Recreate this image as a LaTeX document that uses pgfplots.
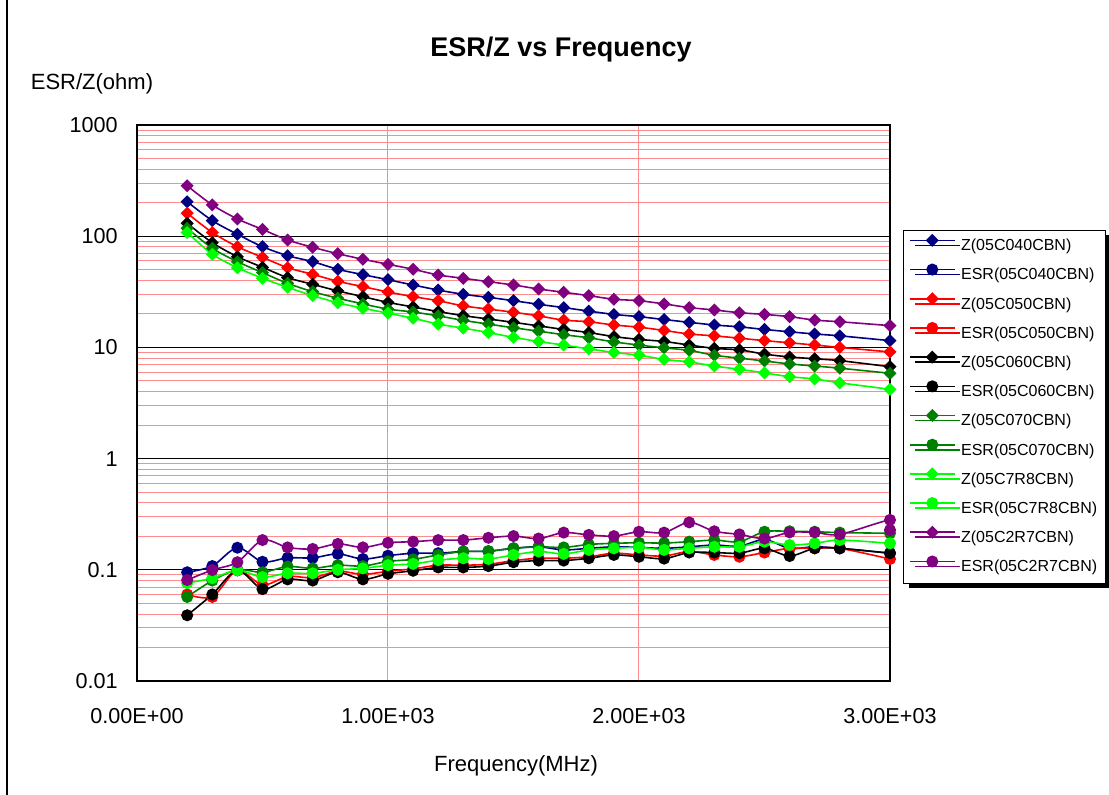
\documentclass[border=0pt]{standalone}
\usepackage{fontspec}
\setmainfont{Liberation Sans}
\usepackage{pgfplots}
\usepackage{pgfplotstable}
\pgfplotsset{compat=1.18}
\usetikzlibrary{shadows}

\definecolor{cnavy}{RGB}{0,0,128}
\definecolor{cred}{RGB}{255,0,0}
\definecolor{cdkgreen}{RGB}{0,128,0}
\definecolor{clime}{RGB}{0,255,0}
\definecolor{cpurple}{RGB}{128,0,128}
\definecolor{gridpink}{RGB}{255,140,140}

% frequency (MHz), Z and ESR (ohm) per part
\pgfplotstableread{
f    z040  e040  z050  e050  z060  e060  z070  e070  z78   e78   z27
200  204   0.095 161   0.060 130.6 0.039 117.8 0.057 108   0.076 284
300  138   0.108 108   0.057 87.4  0.060 77.9  0.080 68.8  0.084 191
400  104   0.158 80.4  0.099 65.4  0.099 59    0.100 52.1  0.099 143
500  80.4  0.118 64.6  0.073 52.5  0.067 47    0.095 41.8  0.086 115
600  66.8  0.128 52.1  0.087 42.4  0.082 37.7  0.107 34.7  0.093 92.4
700  59    0.128 45.4  0.085 36.9  0.080 31.7  0.103 29.2  0.093 79.5
800  50.4  0.139 39.3  0.097 32.2  0.095 27.7  0.110 25.2  0.100 69.6
900  45.1  0.125 35.2  0.091 28.6  0.082 24.6  0.108 22.5  0.103 62
1000 40.6  0.134 31.5  0.097 25.4  0.092 22.1  0.119 20.3  0.110 55.9
1100 36.4  0.141 28.6  0.102 23.1  0.098 20.8  0.124 18.3  0.113 50.4
1200 32.8  0.141 26.3  0.110 21    0.105 19.2  0.136 16.2  0.122 44.8
1300 30    0.146 23.6  0.110 19.3  0.105 17.5  0.146 14.9  0.127 41.8
1400 28.2  0.147 22.1  0.112 18    0.108 16.2  0.147 13.6  0.125 39
1500 26.3  0.156 20.7  0.121 16.8  0.117 15.0  0.156 12.3  0.136 36.4
1600 24.4  0.161 19.2  0.127 15.6  0.121 14.0  0.161 11.3  0.146 33.5
1700 22.8  0.151 17.6  0.127 14.5  0.121 13.0  0.159 10.5  0.139 31.3
1800 21.2  0.156 17    0.131 13.6  0.127 12.2  0.169 9.7   0.151 29.2
1900 19.8  0.161 15.9  0.141 12.5  0.136 11.2  0.173 9.0   0.156 27.1
2000 18.9  0.159 15.2  0.136 11.8  0.131 10.5  0.175 8.5   0.159 26.3
2100 17.8  0.156 14.2  0.133 11.3  0.126 9.9   0.174 7.8   0.151 24.6
2200 16.8  0.161 13.2  0.146 10.5  0.143 9.4   0.179 7.4   0.156 22.8
2300 15.9  0.167 12.7  0.136 9.8   0.143 8.5   0.185 6.8   0.161 21.7
2400 15.3  0.163 12.1  0.131 9.5   0.141 8.0   0.179 6.35  0.161 20.5
2500 14.5  0.187 11.5  0.143 8.7   0.156 7.55  0.220 5.9   0.179 19.8
2600 13.8  0.156 11    0.156 8.2   0.133 7.1   0.222 5.45  0.167 18.9
2700 13.2  0.161 10.5  0.156 7.9   0.156 6.8   0.220 5.2   0.173 17.6
2800 12.7  0.156 10    0.156 7.6   0.156 6.5   0.216 4.8   0.185 17
3000 11.5  0.141 9.1   0.125 6.7   0.141 5.85  0.213 4.2   0.173 15.7
}\data

\pgfplotstableread{
f    e27
200  0.081
300  0.0995
400  0.117
500  0.185
600  0.159
700  0.154
800  0.171
900  0.159
1000 0.175
1100 0.179
1200 0.185
1300 0.185
1400 0.194
1500 0.201
1600 0.191
1700 0.216
1800 0.206
1900 0.201
2000 0.220
2100 0.216
2200 0.267
2300 0.222
2400 0.208
2500 0.191
2600 0.217
2700 0.217
2800 0.208
3000 0.281
3000 0.228
}\esrpurple

\pgfplotsset{
  zser/.style={color=#1, line width=0.8pt, smooth, mark=square*, mark size=1.9pt,
    mark options={rotate=45, fill=#1, draw=#1, solid}},
  eser/.style={color=#1, line width=0.8pt, smooth, mark=*, mark size=2.6pt,
    mark options={fill=#1, draw=#1, solid}},
}

\begin{document}
\begin{tikzpicture}
\useasboundingbox (-68.5pt,-57pt) rectangle (486pt,340.5pt);
\draw[line width=0.75pt] (-65pt,-57pt) -- (-65pt,340.5pt);
\begin{axis}[
  at={(0pt,0pt)}, anchor=south west,
  scale only axis,
  width=376.5pt, height=278pt,
  xmin=0, xmax=3000,
  ymode=log, ymin=0.01, ymax=1000,
  xtick={0,1000,2000,3000},
  xticklabels={0.00E+00,1.00E+03,2.00E+03,3.00E+03},
  ytick={0.01,0.1,1,10,100,1000},
  yticklabels={0.01,0.1,1,10,100,1000},
  minor ytick={0.02,0.03,0.04,0.05,0.06,0.07,0.08,0.09,
               0.2,0.3,0.4,0.5,0.6,0.7,0.8,0.9,
               2,3,4,5,6,7,8,9,20,30,40,50,60,70,80,90,
               200,300,400,500,600,700,800,900},
  xmajorgrids, ymajorgrids, yminorgrids,
  major x grid style={gridpink, line width=0.5pt},
  major y grid style={black, line width=0.6pt},
  minor y grid style={gridpink, line width=0.5pt},
  major tick length=0pt, minor tick length=0pt,
  axis line style={black, line width=1pt},
  tick label style={font=\fontsize{10.8}{12}\selectfont},
  xticklabel style={anchor=center, yshift=-17.5pt},
  yticklabel style={anchor=east, inner sep=0pt, xshift=-9.5pt},
  title={ESR/Z vs Frequency},
  title style={at={(0.5631,1.1133)}, anchor=center, font=\bfseries\fontsize{13.5}{15}\selectfont},
  xlabel={Frequency(MHz)},
  xlabel style={at={(0.5033,-0.153)}, anchor=center, font=\fontsize{11}{13}\selectfont},
  ylabel={ESR/Z(ohm)},
  ylabel style={at={(-0.0598,1.074)}, anchor=center, rotate=-90, font=\fontsize{11}{13}\selectfont},
  legend style={at={(1.0173,0.8112)}, anchor=north west, draw=black, line width=0.5pt,
    fill=white, drop shadow={shadow xshift=2.5pt, shadow yshift=-2.5pt, opacity=1, fill=black},
    font=\fontsize{8}{10}\selectfont, row sep=2.3pt, inner xsep=3pt, inner ysep=1.8pt,
    nodes={inner xsep=1pt, inner ysep=2.5pt},
    /tikz/every odd column/.append style={column sep=2pt}},
  legend cell align=left,
  legend image code/.code={
    \draw[mark repeat=2, mark phase=2] plot coordinates {(0pt,3pt) (11pt,3pt) (22pt,3pt)};
  },
]
\addplot[zser=cnavy] table[x=f, y=z040] {\data};
\addlegendentry{Z(05C040CBN)}
\addplot[eser=cnavy] table[x=f, y=e040] {\data};
\addlegendentry{ESR(05C040CBN)}
\addplot[zser=cred] table[x=f, y=z050] {\data};
\addlegendentry{Z(05C050CBN)}
\addplot[eser=cred] table[x=f, y=e050] {\data};
\addlegendentry{ESR(05C050CBN)}
\addplot[zser=black] table[x=f, y=z060] {\data};
\addlegendentry{Z(05C060CBN)}
\addplot[eser=black] table[x=f, y=e060] {\data};
\addlegendentry{ESR(05C060CBN)}
\addplot[zser=cdkgreen] table[x=f, y=z070] {\data};
\addlegendentry{Z(05C070CBN)}
\addplot[eser=cdkgreen] table[x=f, y=e070] {\data};
\addlegendentry{ESR(05C070CBN)}
\addplot[zser=clime] table[x=f, y=z78] {\data};
\addlegendentry{Z(05C7R8CBN)}
\addplot[eser=clime] table[x=f, y=e78] {\data};
\addlegendentry{ESR(05C7R8CBN)}
\addplot[zser=cpurple] table[x=f, y=z27] {\data};
\addlegendentry{Z(05C2R7CBN)}
\addplot[eser=cpurple] table[x=f, y=e27] {\esrpurple};
\addlegendentry{ESR(05C2R7CBN)}
\end{axis}
\end{tikzpicture}
\end{document}
